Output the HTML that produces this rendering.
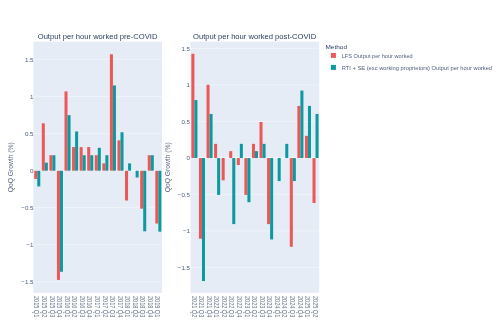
<!DOCTYPE html>
<html><head><meta charset="utf-8"><style>
html,body{margin:0;padding:0;background:#fff;width:500px;height:333px;overflow:hidden}
svg{display:block;will-change:transform}
text{font-family:"Liberation Sans", sans-serif}
</style></head><body>
<svg width="500" height="333" viewBox="0 0 500 333">
<rect width="500" height="333" fill="#fff"/>
<rect x="33.35" y="41.65" width="128.65" height="251.15" fill="#E5ECF6"/>
<line x1="33.35" x2="162" y1="59.23" y2="59.23" stroke="#fff" stroke-width="0.42"/>
<text x="33.55" y="61.68" text-anchor="end" font-size="6.2" fill="#2a3f5f" fill-opacity="0.85">1.5</text>
<line x1="33.35" x2="162" y1="96.34" y2="96.34" stroke="#fff" stroke-width="0.42"/>
<text x="33.55" y="98.79" text-anchor="end" font-size="6.2" fill="#2a3f5f" fill-opacity="0.85">1</text>
<line x1="33.35" x2="162" y1="133.45" y2="133.45" stroke="#fff" stroke-width="0.42"/>
<text x="33.55" y="135.9" text-anchor="end" font-size="6.2" fill="#2a3f5f" fill-opacity="0.85">0.5</text>
<line x1="33.35" x2="162" y1="170.56" y2="170.56" stroke="#fff" stroke-width="0.83"/>
<text x="33.55" y="173.01" text-anchor="end" font-size="6.2" fill="#2a3f5f" fill-opacity="0.85">0</text>
<line x1="33.35" x2="162" y1="207.67" y2="207.67" stroke="#fff" stroke-width="0.42"/>
<text x="33.55" y="210.12" text-anchor="end" font-size="6.2" fill="#2a3f5f" fill-opacity="0.85">−0.5</text>
<line x1="33.35" x2="162" y1="244.78" y2="244.78" stroke="#fff" stroke-width="0.42"/>
<text x="33.55" y="247.23" text-anchor="end" font-size="6.2" fill="#2a3f5f" fill-opacity="0.85">−1</text>
<line x1="33.35" x2="162" y1="281.89" y2="281.89" stroke="#fff" stroke-width="0.42"/>
<text x="33.55" y="284.34" text-anchor="end" font-size="6.2" fill="#2a3f5f" fill-opacity="0.85">−1.5</text>
<rect x="34.227" y="170.71" width="3.027" height="8.264" fill="#EC5757"/>
<rect x="37.254" y="170.71" width="3.027" height="15.686" fill="#0D9A9E"/>
<text transform="translate(34.404,296) rotate(90) scale(1,1.225)" font-size="5.552" fill="#2a3f5f" fill-opacity="0.75">2015 Q1</text>
<rect x="41.794" y="123.309" width="3.027" height="47.401" fill="#EC5757"/>
<rect x="44.821" y="162.646" width="3.027" height="8.064" fill="#0D9A9E"/>
<text transform="translate(41.971,296) rotate(90) scale(1,1.225)" font-size="5.552" fill="#2a3f5f" fill-opacity="0.75">2015 Q2</text>
<rect x="49.362" y="155.224" width="3.027" height="15.486" fill="#EC5757"/>
<rect x="52.389" y="155.224" width="3.027" height="15.486" fill="#0D9A9E"/>
<text transform="translate(49.539,296) rotate(90) scale(1,1.225)" font-size="5.552" fill="#2a3f5f" fill-opacity="0.75">2015 Q3</text>
<rect x="56.93" y="170.71" width="3.027" height="109.203" fill="#EC5757"/>
<rect x="59.957" y="170.71" width="3.027" height="101.039" fill="#0D9A9E"/>
<text transform="translate(57.107,296) rotate(90) scale(1,1.225)" font-size="5.552" fill="#2a3f5f" fill-opacity="0.75">2015 Q4</text>
<rect x="64.497" y="91.395" width="3.027" height="79.315" fill="#EC5757"/>
<rect x="67.524" y="115.145" width="3.027" height="55.565" fill="#0D9A9E"/>
<text transform="translate(64.674,296) rotate(90) scale(1,1.225)" font-size="5.552" fill="#2a3f5f" fill-opacity="0.75">2016 Q1</text>
<rect x="72.065" y="147.06" width="3.027" height="23.65" fill="#EC5757"/>
<rect x="75.092" y="131.473" width="3.027" height="39.237" fill="#0D9A9E"/>
<text transform="translate(72.242,296) rotate(90) scale(1,1.225)" font-size="5.552" fill="#2a3f5f" fill-opacity="0.75">2016 Q2</text>
<rect x="79.633" y="147.06" width="3.027" height="23.65" fill="#EC5757"/>
<rect x="82.66" y="155.224" width="3.027" height="15.486" fill="#0D9A9E"/>
<text transform="translate(79.81,296) rotate(90) scale(1,1.225)" font-size="5.552" fill="#2a3f5f" fill-opacity="0.75">2016 Q3</text>
<rect x="87.2" y="147.06" width="3.027" height="23.65" fill="#EC5757"/>
<rect x="90.227" y="155.224" width="3.027" height="15.486" fill="#0D9A9E"/>
<text transform="translate(87.377,296) rotate(90) scale(1,1.225)" font-size="5.552" fill="#2a3f5f" fill-opacity="0.75">2016 Q4</text>
<rect x="94.768" y="155.224" width="3.027" height="15.486" fill="#EC5757"/>
<rect x="97.795" y="147.802" width="3.027" height="22.908" fill="#0D9A9E"/>
<text transform="translate(94.945,296) rotate(90) scale(1,1.225)" font-size="5.552" fill="#2a3f5f" fill-opacity="0.75">2017 Q1</text>
<rect x="102.336" y="163.388" width="3.027" height="7.322" fill="#EC5757"/>
<rect x="105.363" y="155.224" width="3.027" height="15.486" fill="#0D9A9E"/>
<text transform="translate(102.513,296) rotate(90) scale(1,1.225)" font-size="5.552" fill="#2a3f5f" fill-opacity="0.75">2017 Q2</text>
<rect x="109.903" y="54.285" width="3.027" height="116.425" fill="#EC5757"/>
<rect x="112.93" y="85.457" width="3.027" height="85.253" fill="#0D9A9E"/>
<text transform="translate(110.08,296) rotate(90) scale(1,1.225)" font-size="5.552" fill="#2a3f5f" fill-opacity="0.75">2017 Q3</text>
<rect x="117.471" y="140.38" width="3.027" height="30.33" fill="#EC5757"/>
<rect x="120.498" y="132.216" width="3.027" height="38.494" fill="#0D9A9E"/>
<text transform="translate(117.648,296) rotate(90) scale(1,1.225)" font-size="5.552" fill="#2a3f5f" fill-opacity="0.75">2017 Q4</text>
<rect x="125.039" y="170.71" width="3.027" height="29.788" fill="#EC5757"/>
<rect x="128.066" y="163.388" width="3.027" height="7.322" fill="#0D9A9E"/>
<text transform="translate(125.216,296) rotate(90) scale(1,1.225)" font-size="5.552" fill="#2a3f5f" fill-opacity="0.75">2018 Q1</text>
<rect x="135.633" y="170.71" width="3.027" height="6.78" fill="#0D9A9E"/>
<text transform="translate(132.783,296) rotate(90) scale(1,1.225)" font-size="5.552" fill="#2a3f5f" fill-opacity="0.75">2018 Q2</text>
<rect x="140.174" y="170.71" width="3.027" height="37.952" fill="#EC5757"/>
<rect x="143.201" y="170.71" width="3.027" height="60.589" fill="#0D9A9E"/>
<text transform="translate(140.351,296) rotate(90) scale(1,1.225)" font-size="5.552" fill="#2a3f5f" fill-opacity="0.75">2018 Q3</text>
<rect x="147.741" y="155.224" width="3.027" height="15.486" fill="#EC5757"/>
<rect x="150.769" y="155.224" width="3.027" height="15.486" fill="#0D9A9E"/>
<text transform="translate(147.919,296) rotate(90) scale(1,1.225)" font-size="5.552" fill="#2a3f5f" fill-opacity="0.75">2018 Q4</text>
<rect x="155.309" y="170.71" width="3.027" height="52.796" fill="#EC5757"/>
<rect x="158.336" y="170.71" width="3.027" height="60.96" fill="#0D9A9E"/>
<text transform="translate(155.486,296) rotate(90) scale(1,1.225)" font-size="5.552" fill="#2a3f5f" fill-opacity="0.75">2019 Q1</text>
<text transform="translate(97.55,39.35) scale(1,1.049)" font-size="7.629" text-anchor="middle" fill="#2a3f5f">Output per hour worked pre-COVID</text>
<text transform="translate(12.9,167.25) rotate(-90) scale(1,0.986)" font-size="6.742" text-anchor="middle" fill="#2a3f5f" fill-opacity="0.8">QoQ Growth (%)</text>
<rect x="190.5" y="41.65" width="128.7" height="251.15" fill="#E5ECF6"/>
<line x1="190.5" x2="319.2" y1="48.445" y2="48.445" stroke="#fff" stroke-width="0.42"/>
<text x="190" y="50.895" text-anchor="end" font-size="6.2" fill="#2a3f5f" fill-opacity="0.85">1.5</text>
<line x1="190.5" x2="319.2" y1="84.93" y2="84.93" stroke="#fff" stroke-width="0.42"/>
<text x="190" y="87.38" text-anchor="end" font-size="6.2" fill="#2a3f5f" fill-opacity="0.85">1</text>
<line x1="190.5" x2="319.2" y1="121.415" y2="121.415" stroke="#fff" stroke-width="0.42"/>
<text x="190" y="123.865" text-anchor="end" font-size="6.2" fill="#2a3f5f" fill-opacity="0.85">0.5</text>
<line x1="190.5" x2="319.2" y1="157.9" y2="157.9" stroke="#fff" stroke-width="0.83"/>
<text x="190" y="160.35" text-anchor="end" font-size="6.2" fill="#2a3f5f" fill-opacity="0.85">0</text>
<line x1="190.5" x2="319.2" y1="194.385" y2="194.385" stroke="#fff" stroke-width="0.42"/>
<text x="190" y="196.835" text-anchor="end" font-size="6.2" fill="#2a3f5f" fill-opacity="0.85">−0.5</text>
<line x1="190.5" x2="319.2" y1="230.87" y2="230.87" stroke="#fff" stroke-width="0.42"/>
<text x="190" y="233.32" text-anchor="end" font-size="6.2" fill="#2a3f5f" fill-opacity="0.85">−1</text>
<line x1="190.5" x2="319.2" y1="267.355" y2="267.355" stroke="#fff" stroke-width="0.42"/>
<text x="190" y="269.805" text-anchor="end" font-size="6.2" fill="#2a3f5f" fill-opacity="0.85">−1.5</text>
<rect x="191.377" y="53.738" width="3.028" height="104.312" fill="#EC5757"/>
<rect x="194.405" y="100.074" width="3.028" height="57.976" fill="#0D9A9E"/>
<text transform="translate(191.555,296) rotate(90) scale(1,1.225)" font-size="5.552" fill="#2a3f5f" fill-opacity="0.75">2021 Q2</text>
<rect x="198.948" y="158.05" width="3.028" height="80.667" fill="#EC5757"/>
<rect x="201.976" y="158.05" width="3.028" height="122.99" fill="#0D9A9E"/>
<text transform="translate(199.126,296) rotate(90) scale(1,1.225)" font-size="5.552" fill="#2a3f5f" fill-opacity="0.75">2021 Q3</text>
<rect x="206.518" y="84.75" width="3.028" height="73.3" fill="#EC5757"/>
<rect x="209.546" y="113.938" width="3.028" height="44.112" fill="#0D9A9E"/>
<text transform="translate(206.696,296) rotate(90) scale(1,1.225)" font-size="5.552" fill="#2a3f5f" fill-opacity="0.75">2021 Q4</text>
<rect x="214.089" y="143.856" width="3.028" height="14.194" fill="#EC5757"/>
<rect x="217.117" y="158.05" width="3.028" height="36.885" fill="#0D9A9E"/>
<text transform="translate(214.267,296) rotate(90) scale(1,1.225)" font-size="5.552" fill="#2a3f5f" fill-opacity="0.75">2022 Q1</text>
<rect x="221.659" y="158.05" width="3.028" height="22.291" fill="#EC5757"/>
<text transform="translate(221.838,296) rotate(90) scale(1,1.225)" font-size="5.552" fill="#2a3f5f" fill-opacity="0.75">2022 Q2</text>
<rect x="229.23" y="151.153" width="3.028" height="6.897" fill="#EC5757"/>
<rect x="232.258" y="158.05" width="3.028" height="66.073" fill="#0D9A9E"/>
<text transform="translate(229.408,296) rotate(90) scale(1,1.225)" font-size="5.552" fill="#2a3f5f" fill-opacity="0.75">2022 Q3</text>
<rect x="236.801" y="158.05" width="3.028" height="6.967" fill="#EC5757"/>
<rect x="239.829" y="143.856" width="3.028" height="14.194" fill="#0D9A9E"/>
<text transform="translate(236.979,296) rotate(90) scale(1,1.225)" font-size="5.552" fill="#2a3f5f" fill-opacity="0.75">2022 Q4</text>
<rect x="244.371" y="158.05" width="3.028" height="36.885" fill="#EC5757"/>
<rect x="247.399" y="158.05" width="3.028" height="44.182" fill="#0D9A9E"/>
<text transform="translate(244.549,296) rotate(90) scale(1,1.225)" font-size="5.552" fill="#2a3f5f" fill-opacity="0.75">2023 Q1</text>
<rect x="251.942" y="143.856" width="3.028" height="14.194" fill="#EC5757"/>
<rect x="254.97" y="151.153" width="3.028" height="6.897" fill="#0D9A9E"/>
<text transform="translate(252.12,296) rotate(90) scale(1,1.225)" font-size="5.552" fill="#2a3f5f" fill-opacity="0.75">2023 Q2</text>
<rect x="259.512" y="121.965" width="3.028" height="36.085" fill="#EC5757"/>
<rect x="262.541" y="143.856" width="3.028" height="14.194" fill="#0D9A9E"/>
<text transform="translate(259.691,296) rotate(90) scale(1,1.225)" font-size="5.552" fill="#2a3f5f" fill-opacity="0.75">2023 Q3</text>
<rect x="267.083" y="158.05" width="3.028" height="66.073" fill="#EC5757"/>
<rect x="270.111" y="158.05" width="3.028" height="81.397" fill="#0D9A9E"/>
<text transform="translate(267.261,296) rotate(90) scale(1,1.225)" font-size="5.552" fill="#2a3f5f" fill-opacity="0.75">2023 Q4</text>
<rect x="277.682" y="158.05" width="3.028" height="23.021" fill="#0D9A9E"/>
<text transform="translate(274.832,296) rotate(90) scale(1,1.225)" font-size="5.552" fill="#2a3f5f" fill-opacity="0.75">2024 Q1</text>
<rect x="285.252" y="143.856" width="3.028" height="14.194" fill="#0D9A9E"/>
<text transform="translate(282.402,296) rotate(90) scale(1,1.225)" font-size="5.552" fill="#2a3f5f" fill-opacity="0.75">2024 Q2</text>
<rect x="289.795" y="158.05" width="3.028" height="88.694" fill="#EC5757"/>
<rect x="292.823" y="158.05" width="3.028" height="23.021" fill="#0D9A9E"/>
<text transform="translate(289.973,296) rotate(90) scale(1,1.225)" font-size="5.552" fill="#2a3f5f" fill-opacity="0.75">2024 Q3</text>
<rect x="297.365" y="105.912" width="3.028" height="52.138" fill="#EC5757"/>
<rect x="300.394" y="90.588" width="3.028" height="67.462" fill="#0D9A9E"/>
<text transform="translate(297.544,296) rotate(90) scale(1,1.225)" font-size="5.552" fill="#2a3f5f" fill-opacity="0.75">2024 Q4</text>
<rect x="304.936" y="135.829" width="3.028" height="22.221" fill="#EC5757"/>
<rect x="307.964" y="105.912" width="3.028" height="52.138" fill="#0D9A9E"/>
<text transform="translate(305.114,296) rotate(90) scale(1,1.225)" font-size="5.552" fill="#2a3f5f" fill-opacity="0.75">2025 Q1</text>
<rect x="312.506" y="158.05" width="3.028" height="44.912" fill="#EC5757"/>
<rect x="315.535" y="113.938" width="3.028" height="44.112" fill="#0D9A9E"/>
<text transform="translate(312.685,296) rotate(90) scale(1,1.225)" font-size="5.552" fill="#2a3f5f" fill-opacity="0.75">2025 Q2</text>
<text transform="translate(254.6,39.35) scale(1,1.049)" font-size="7.63" text-anchor="middle" fill="#2a3f5f">Output per hour worked post-COVID</text>
<text transform="translate(169.9,167.25) rotate(-90) scale(1,0.986)" font-size="6.742" text-anchor="middle" fill="#2a3f5f" fill-opacity="0.8">QoQ Growth (%)</text>
<text transform="translate(325.5,48.85) scale(1,0.884)" font-size="6.446" fill="#2a3f5f">Method</text>
<rect x="330.9" y="52.9" width="5" height="5" fill="#EC5757"/>
<text transform="translate(341.7,57.7) scale(1,1.081)" font-size="5.643" fill="#2a3f5f" fill-opacity="0.85">LFS Output per hour worked</text>
<rect x="330.9" y="64.9" width="5" height="5" fill="#0D9A9E"/>
<text transform="translate(341.7,69.9) scale(1,1.058)" font-size="5.763" fill="#2a3f5f" fill-opacity="0.85">RTI + SE (exc working proprietors) Output per hour worked</text>
</svg>
</body></html>
